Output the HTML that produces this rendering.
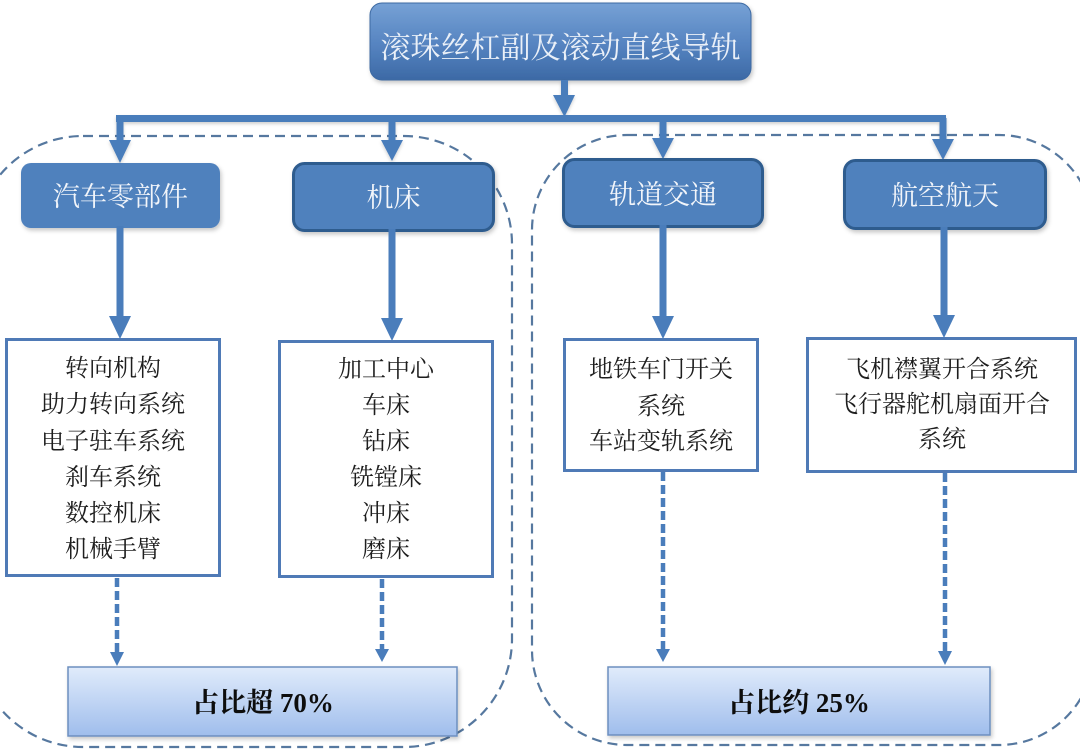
<!DOCTYPE html>
<html>
<head>
<meta charset="utf-8">
<style>
  html,body{margin:0;padding:0;background:#fff;}
  svg{display:block;}
  .serif{font-family:"Liberation Serif","Noto Serif CJK SC","Noto Sans CJK SC",serif;}
</style>
</head>
<body>
<svg width="1080" height="749" viewBox="0 0 1080 749" xmlns="http://www.w3.org/2000/svg">
  <defs>
    <linearGradient id="topg" x1="0" y1="0" x2="0" y2="1">
      <stop offset="0" stop-color="#76a1d5"/>
      <stop offset="0.55" stop-color="#5583c0"/>
      <stop offset="1" stop-color="#3c69a5"/>
    </linearGradient>
    <linearGradient id="botg" x1="0" y1="0" x2="0" y2="1">
      <stop offset="0" stop-color="#e0ebfb"/>
      <stop offset="1" stop-color="#9fbdec"/>
    </linearGradient>
    <filter id="sh" x="-10%" y="-10%" width="130%" height="140%">
      <feDropShadow dx="1.5" dy="2.5" stdDeviation="2" flood-color="#000" flood-opacity="0.22"/>
    </filter>
    <filter id="sh2" x="-10%" y="-50%" width="120%" height="300%">
      <feDropShadow dx="0" dy="2" stdDeviation="1.5" flood-color="#000" flood-opacity="0.18"/>
    </filter>
  </defs>

  <!-- dashed group containers -->
  <rect x="-25" y="136" width="537" height="611" rx="108" ry="108" fill="none" stroke="#56789f" stroke-width="2.2" stroke-dasharray="10 6"/>
  <rect x="532" y="135" width="562" height="610" rx="95" ry="95" fill="none" stroke="#56789f" stroke-width="2.2" stroke-dasharray="10 6"/>

  <!-- top box -->
  <rect x="370" y="3" width="381" height="77" rx="12" ry="12" fill="url(#topg)" stroke="#3d6aa3" stroke-width="1" filter="url(#sh)"/>
  <text x="560.5" y="58" text-anchor="middle" class="serif" font-size="30" fill="#eaf0f8">滚珠丝杠副及滚动直线导轨</text>

  <!-- top connector + bar -->
  <g fill="#4a7dbb" filter="url(#sh2)">
    <rect x="561" y="80" width="7" height="17"/>
    <polygon points="553,95 575,95 564.5,117"/>
    <rect x="116" y="115" width="830" height="7"/>
    <!-- branch stems -->
    <rect x="116.5" y="118" width="7" height="24"/>
    <polygon points="109,140 131,140 120,163"/>
    <rect x="388.5" y="118" width="7" height="24"/>
    <polygon points="381,140 403,140 392,161"/>
    <rect x="659.5" y="118" width="7" height="22"/>
    <polygon points="652,138 674,138 663,159"/>
    <rect x="939.5" y="118" width="7" height="24"/>
    <polygon points="932,139 954,139 943,160"/>
  </g>

  <!-- branch boxes -->
  <rect x="21" y="163" width="199" height="65" rx="10" ry="10" fill="#4f81bd" filter="url(#sh)"/>
  <rect x="293.5" y="163.5" width="200" height="67" rx="11" ry="11" fill="#4f81bd" stroke="#2f5b8e" stroke-width="3" filter="url(#sh)"/>
  <rect x="563.5" y="159.5" width="199" height="67" rx="11" ry="11" fill="#4f81bd" stroke="#2f5b8e" stroke-width="3" filter="url(#sh)"/>
  <rect x="844.5" y="160.5" width="201" height="68" rx="11" ry="11" fill="#4f81bd" stroke="#2f5b8e" stroke-width="3" filter="url(#sh)"/>

  <g class="serif" font-size="27" fill="#f2f5fa" text-anchor="middle">
    <text x="120.5" y="206">汽车零部件</text>
    <text x="393.5" y="207">机床</text>
    <text x="663" y="204">轨道交通</text>
    <text x="945" y="205">航空航天</text>
  </g>

  <!-- lower solid arrows -->
  <g fill="#4a7dbb">
    <rect x="116.5" y="226" width="7" height="92"/>
    <polygon points="109,316 131,316 120,339"/>
    <rect x="388.5" y="229" width="7" height="91"/>
    <polygon points="381,318 403,318 392,341"/>
    <rect x="659.5" y="225" width="7" height="93"/>
    <polygon points="652,316 674,316 663,339"/>
    <rect x="940.5" y="227" width="7" height="90"/>
    <polygon points="933,315 955,315 944,338"/>
  </g>

  <!-- detail boxes -->
  <g fill="#fff" stroke="#4f7ab6" stroke-width="3">
    <rect x="6.5" y="339.5" width="213" height="236"/>
    <rect x="279.5" y="341.5" width="213" height="235"/>
    <rect x="564.5" y="339.5" width="193" height="131"/>
    <rect x="807.5" y="338.5" width="268" height="133"/>
  </g>

  <g class="serif" font-size="24" fill="#1e1e1e" text-anchor="middle">
    <text x="113" y="376">转向机构</text>
    <text x="113" y="412">助力转向系统</text>
    <text x="113" y="449">电子驻车系统</text>
    <text x="113" y="485">刹车系统</text>
    <text x="113" y="521">数控机床</text>
    <text x="113" y="557">机械手臂</text>

    <text x="386" y="377">加工中心</text>
    <text x="386" y="413">车床</text>
    <text x="386" y="449">钻床</text>
    <text x="386" y="485">铣镗床</text>
    <text x="386" y="521">冲床</text>
    <text x="386" y="557">磨床</text>

    <text x="661" y="377">地铁车门开关</text>
    <text x="661" y="414">系统</text>
    <text x="661" y="449">车站变轨系统</text>

    <text x="942" y="377">飞机襟翼开合系统</text>
    <text x="942" y="412">飞行器舵机扇面开合</text>
    <text x="942" y="447">系统</text>
  </g>

  <!-- dashed arrows -->
  <g stroke="#4a7dbb" stroke-width="4.5" stroke-dasharray="9 4" fill="none">
    <line x1="117" y1="578" x2="117" y2="652"/>
    <line x1="382" y1="579" x2="382" y2="649"/>
    <line x1="663" y1="472" x2="663" y2="650"/>
    <line x1="945" y1="473" x2="945" y2="652"/>
  </g>
  <g fill="#4a7dbb">
    <polygon points="110,652 124,652 117,666"/>
    <polygon points="375,649 389,649 382,662"/>
    <polygon points="656,649 670,649 663,662"/>
    <polygon points="938,651 952,651 945,665"/>
  </g>

  <!-- bottom summary boxes -->
  <rect x="68" y="667" width="389" height="69" fill="url(#botg)" stroke="#6d8fbf" stroke-width="1.5" filter="url(#sh)"/>
  <rect x="608" y="667" width="382" height="68" fill="url(#botg)" stroke="#6d8fbf" stroke-width="1.5" filter="url(#sh)"/>
  <g class="serif" font-size="27" font-weight="700" fill="#0d0d0d" text-anchor="middle">
    <text x="263" y="712">占比超 70%</text>
    <text x="799" y="712">占比约 25%</text>
  </g>
</svg>
</body>
</html>
